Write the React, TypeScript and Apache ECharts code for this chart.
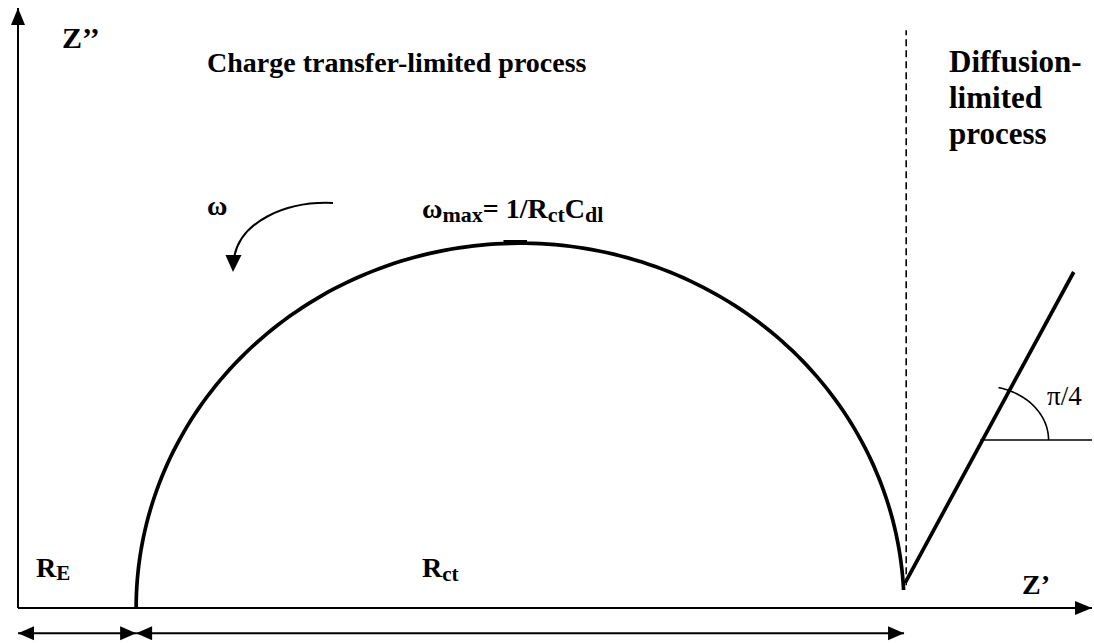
import React, { useEffect, useRef } from "react";
import * as echarts from "echarts";

// Nyquist plot of a Randles cell, in arbitrary impedance units.
const R_E = 11; // electrolyte resistance (high-frequency intercept)
const R_CT = 71.5; // charge-transfer resistance (semicircle diameter)
const ARC_HEIGHT = 60.8; // -Z'' at the semicircle apex
const ARC_END_Z2 = 3; // -Z'' where the semicircle hands over to diffusion

// Warburg branch (low-frequency straight line)
const WARBURG_LINE: number[][] = [
  [82.6, 4.2],
  [98.3, 56],
];
// Boundary between the two regimes
const DIVIDER_LINE: number[][] = [
  [82.7, 3.8],
  [82.7, 96.3],
];
// Horizontal reference used to show the π/4 angle
const ANGLE_REF_LINE: number[][] = [
  [89.6, 28],
  [100, 28],
];
const ANGLE_VERTEX: number[] = [89.81, 28];
// Small mark at ω_max on top of the semicircle
const WMAX_MARK: number[][] = [
  [45.2, 61.0],
  [47.4, 61.0],
];
// Arrows: x1, y1, x2, y2, heads (1 = end only, 2 = both ends)
const AXIS_ARROWS: number[][] = [
  [0, 0, 0, 100, 1],
  [0, 0, 100, 0, 1],
];
const DIMENSION_ARROWS: number[][] = [
  [0, -4.2, R_E, -4.2, 2],
  [R_E, -4.2, R_E + R_CT, -4.2, 2],
];

const FONT = '"Liberation Serif", "Times New Roman", serif';

function textWidth(text: string, size: number, weight: string): number {
  const ctx = document.createElement("canvas").getContext("2d");
  if (!ctx) return text.length * size * 0.5;
  ctx.font = `${weight} ${size}px ${FONT}`;
  return ctx.measureText(text).width;
}

// Lays out a label made of normal runs and subscript runs on one baseline.
function runLabel(
  x: number,
  baseline: number,
  parts: [string, number, number][],
  weight = "bold"
): any[] {
  const out: any[] = [];
  let cx = x;
  for (const [t, size, drop] of parts) {
    out.push({
      type: "text",
      x: cx,
      y: baseline + drop - 0.34 * size,
      style: {
        text: t,
        font: `${weight} ${size}px ${FONT}`,
        fill: "#000",
        align: "left",
        verticalAlign: "middle",
      },
    });
    cx += textWidth(t, size, weight);
  }
  return out;
}

function arrowHead(tip: number[], from: number[], len: number, w: number) {
  const dx = tip[0] - from[0];
  const dy = tip[1] - from[1];
  const d = Math.hypot(dx, dy) || 1;
  const ux = dx / d;
  const uy = dy / d;
  const bx = tip[0] - ux * len;
  const by = tip[1] - uy * len;
  return {
    type: "polygon",
    shape: {
      points: [
        [tip[0], tip[1]],
        [bx - uy * (w / 2), by + ux * (w / 2)],
        [bx + uy * (w / 2), by - ux * (w / 2)],
      ],
    },
    style: { fill: "#000" },
  };
}

function arrowRenderer(lineWidth: number, len: number, w: number) {
  return (_params: any, api: any) => {
    const p0 = api.coord([api.value(0), api.value(1)]);
    const p1 = api.coord([api.value(2), api.value(3)]);
    const both = api.value(4) === 2;
    return {
      type: "group",
      children: [
        {
          type: "line",
          shape: { x1: p0[0], y1: p0[1], x2: p1[0], y2: p1[1] },
          style: { stroke: "#000", lineWidth },
        },
        arrowHead(p1, p0, len, w),
        ...(both ? [arrowHead(p0, p1, len, w)] : []),
      ],
    };
  };
}

export default function App() {
  const ref = useRef<HTMLDivElement>(null);

  useEffect(() => {
    if (!ref.current) return;
    const chart = echarts.init(ref.current, undefined, { renderer: "svg" });

    const semicircle = (_params: any, api: any) => {
      const re = api.value(0);
      const rct = api.value(1);
      const h = api.value(2);
      const endY = api.value(3);
      const c = api.coord([re + rct / 2, 0]);
      const rx = api.size([rct / 2, 0])[0];
      const ry = api.size([0, h])[1];
      const tEnd = Math.asin(endY / h);
      const pts: number[][] = [];
      const n = 160;
      for (let i = 0; i <= n; i++) {
        const a = Math.PI - ((Math.PI - tEnd) * i) / n;
        pts.push([c[0] + rx * Math.cos(a), c[1] - ry * Math.sin(a)]);
      }
      return {
        type: "polyline",
        shape: { points: pts },
        style: { stroke: "#000", lineWidth: 3.7, fill: "none" },
      };
    };

    const angleArc = (_params: any, api: any) => {
      const c = api.coord([api.value(0), api.value(1)]);
      const rx = 66;
      const ry = 54;
      const pts: number[][] = [];
      const end = (76 * Math.PI) / 180;
      for (let i = 0; i <= 40; i++) {
        const a = (end * i) / 40;
        pts.push([c[0] + rx * Math.cos(a), c[1] - ry * Math.sin(a)]);
      }
      return {
        type: "polyline",
        shape: { points: pts },
        style: { stroke: "#000", lineWidth: 1.6, fill: "none" },
      };
    };

    const lineSeries = (data: number[][], width: number, type: any = "solid") => ({
      type: "line",
      data,
      symbol: "none",
      silent: true,
      lineStyle: { color: "#000", width, type, cap: "butt" },
    });

    const graphics: any[] = [
      ...runLabel(62, 48, [["Z’’", 30, 0]]),
      ...runLabel(207, 72, [["Charge transfer-limited process", 28, 0]]),
      ...runLabel(949, 72, [["Diffusion-", 31, 0]]),
      ...runLabel(949, 108, [["limited", 31, 0]]),
      ...runLabel(949, 144, [["process", 31, 0]]),
      ...runLabel(207, 215, [["ω", 28, 0]]),
      ...runLabel(422, 218, [
        ["ω", 28, 0],
        ["max", 22, 4],
        ["= 1/R", 28, 0],
        ["ct", 22, 4],
        ["C", 28, 0],
        ["dl", 22, 4],
      ]),
      ...runLabel(36, 577, [
        ["R", 28, 0],
        ["E", 21, 3],
      ]),
      ...runLabel(422, 577, [
        ["R", 28, 0],
        ["ct", 21, 4],
      ]),
      ...runLabel(1022, 594, [["Z’", 28, 0]]),
      ...runLabel(1047, 405, [["π/4", 27, 0]], "normal"),
      {
        type: "bezierCurve",
        shape: {
          x1: 333,
          y1: 203,
          cpx1: 285,
          cpy1: 201,
          cpx2: 240,
          cpy2: 222,
          x2: 234,
          y2: 258,
        },
        style: { stroke: "#000", lineWidth: 2, fill: "none" },
      },
      {
        type: "polygon",
        shape: {
          points: [
            [233, 272],
            [225.5, 255],
            [241.5, 255],
          ],
        },
        style: { fill: "#000" },
      },
    ];

    chart.setOption({
      animation: false,
      backgroundColor: "#fff",
      grid: { left: 18, right: 2, top: 8, bottom: 5, containLabel: false },
      xAxis: {
        type: "value",
        min: 0,
        max: 100,
        show: false,
      },
      yAxis: {
        type: "value",
        min: -5,
        max: 100,
        show: false,
      },
      series: [
        {
          type: "custom",
          renderItem: semicircle,
          data: [[R_E, R_CT, ARC_HEIGHT, ARC_END_Z2]],
          silent: true,
        },
        lineSeries(WMAX_MARK, 4),
        lineSeries(WARBURG_LINE, 3.7),
        lineSeries(DIVIDER_LINE, 1.6, [7, 4]),
        lineSeries(ANGLE_REF_LINE, 1.6),
        {
          type: "custom",
          renderItem: angleArc,
          data: [ANGLE_VERTEX],
          silent: true,
        },
        {
          type: "custom",
          renderItem: arrowRenderer(2, 17, 14),
          data: AXIS_ARROWS,
          silent: true,
        },
        {
          type: "custom",
          renderItem: arrowRenderer(2, 16, 14),
          data: DIMENSION_ARROWS,
          silent: true,
        },
      ],
      graphic: graphics,
    });

    return () => chart.dispose();
  }, []);

  return (
    <div
      ref={ref}
      style={{ position: "fixed", left: 0, top: 0, width: 1094, height: 643 }}
    />
  );
}
